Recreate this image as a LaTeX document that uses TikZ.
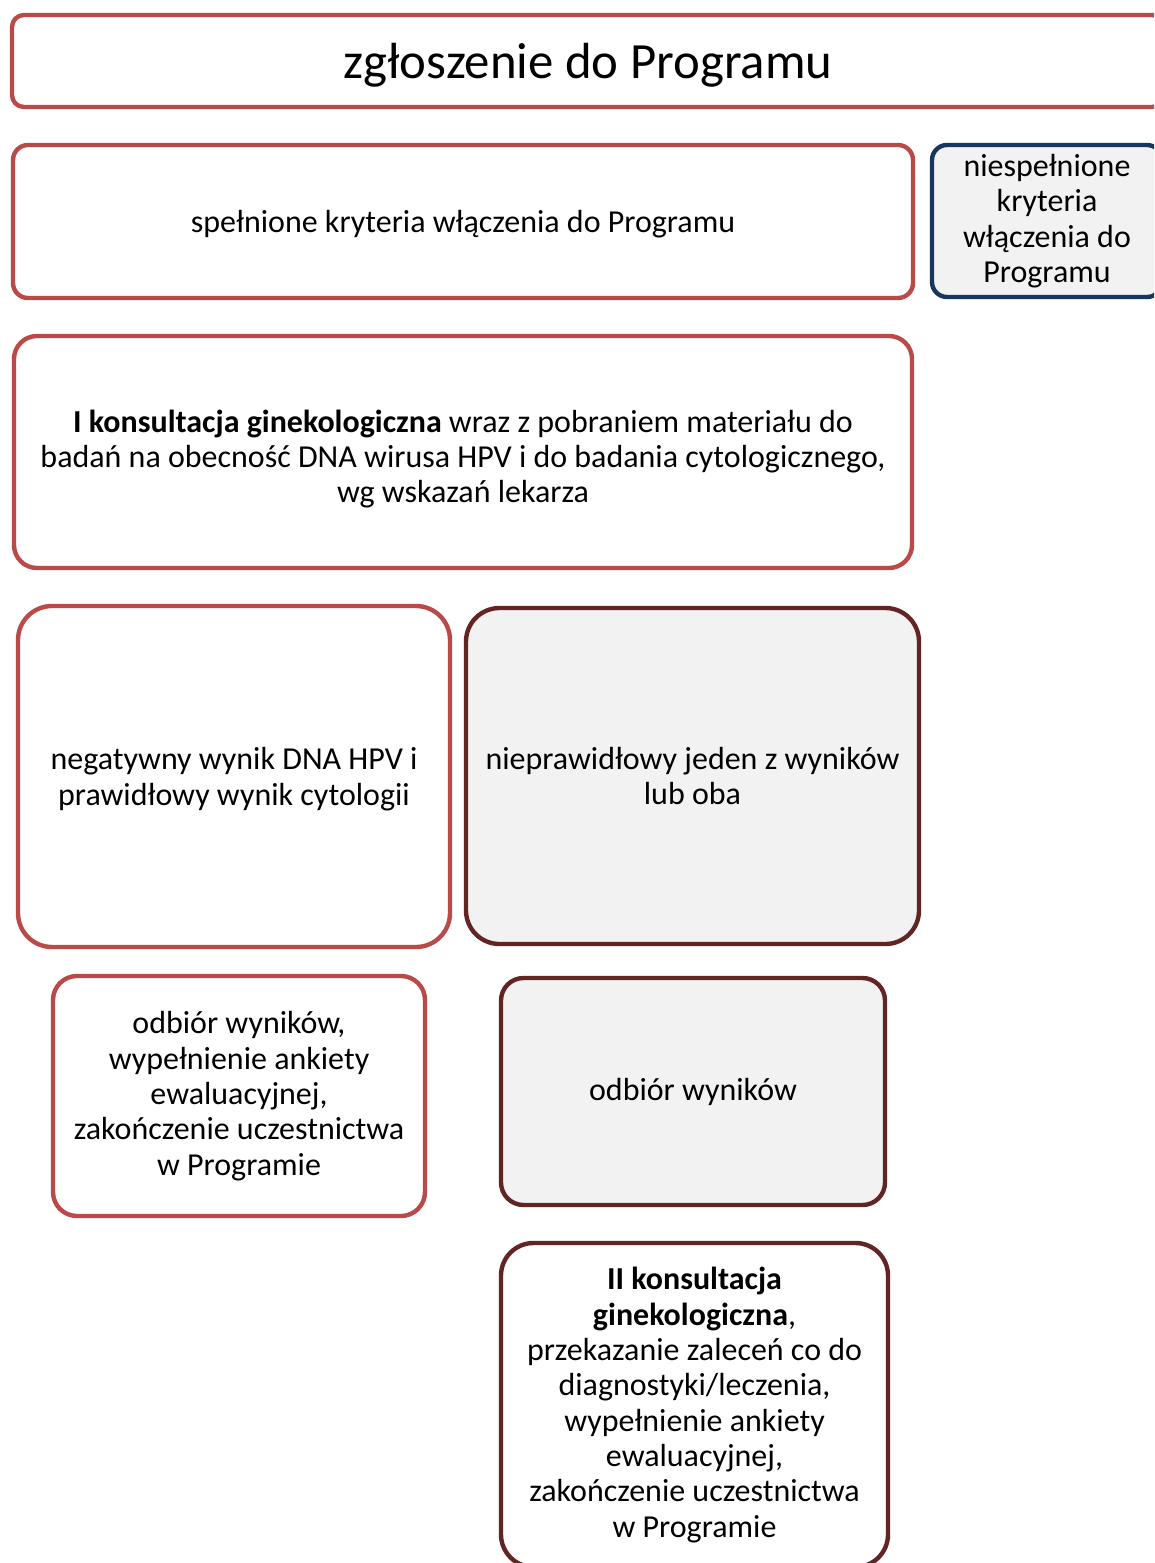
\documentclass[tikz,border=0pt]{standalone}
\usepackage{fontspec}
\setmainfont{Carlito}
\usetikzlibrary{positioning}
\definecolor{lightred}{RGB}{185,74,72}
\definecolor{darkred}{RGB}{99,37,35}
\definecolor{navyblue}{RGB}{23,55,94}
\definecolor{boxgray}{RGB}{242,242,242}
\tikzset{
    stagebox/.style = {rectangle, line width=2.5pt, align=center, inner sep=0pt,font=\fontsize{18.2}{20.1}\selectfont},
    boxr/.style = {stagebox, draw=lightred, fill=white},
    boxd/.style = {stagebox, draw=darkred, fill=boxgray},
    boxb/.style = {stagebox, draw=navyblue, fill=boxgray}
}

\begin{document}
\begin{tikzpicture}
  \useasboundingbox (0,0) rectangle (23.08,-31.26);
  \clip (0,0) rectangle (23.08,-31.26);

  \node[boxr, minimum width=23.04cm, minimum height=1.84cm, rounded corners=0.24cm, text depth=0pt,
        font=\fontsize{28.9}{34}\selectfont] (start) at (11.76,-1.22) {zgłoszenie do Programu};

  \node[boxr, minimum width=18.0cm, minimum height=3.06cm, rounded corners=0.30cm, text depth=0pt] (ok) at (9.26,-4.43)
    {spełnione kryteria włączenia do Programu};
  \node[boxb, minimum width=4.6cm, minimum height=3.04cm, rounded corners=0.30cm] (notok) at (20.94,-4.42)
    {niespełnione\\kryteria\\włączenia do\\Programu};

  \node[boxr, minimum width=17.96cm, minimum height=4.64cm, rounded corners=0.46cm, text depth=0pt] (visit) at (9.26,-9.04)
    {\rule{0pt}{0.62cm}\textbf{I konsultacja ginekologiczna} wraz z pobraniem materiału do\\badań na obecność DNA wirusa HPV i do badania cytologicznego,\\wg wskazań lekarza};

  \node[boxr, minimum width=8.64cm, minimum height=6.82cm, rounded corners=0.68cm, text depth=0pt] (neg) at (4.68,-15.53)
    {negatywny wynik DNA HPV i\\prawidłowy wynik cytologii};
  \node[boxd, minimum width=9.06cm, minimum height=6.72cm, rounded corners=0.67cm] (abn) at (13.85,-15.52)
    {nieprawidłowy jeden z wyników\\lub oba};

  \node[boxr, minimum width=7.44cm, minimum height=4.8cm, rounded corners=0.48cm] (negend) at (4.78,-21.92)
    {odbiór wyników,\\wypełnienie ankiety\\ewaluacyjnej,\\zakończenie uczestnictwa\\w Programie};
  \node[boxd, minimum width=7.68cm, minimum height=4.54cm, rounded corners=0.45cm] (abnres) at (13.86,-21.83)
    {odbiór wyników};

  \node[boxd, fill=white, minimum width=7.74cm, minimum height=6.48cm, rounded corners=0.65cm] (visit2) at (13.89,-28.10)
    {\textbf{II konsultacja}\\\textbf{ginekologiczna},\\przekazanie zaleceń co do\\diagnostyki/leczenia,\\wypełnienie ankiety\\ewaluacyjnej,\\zakończenie uczestnictwa\\w Programie};

\end{tikzpicture}
\end{document}
